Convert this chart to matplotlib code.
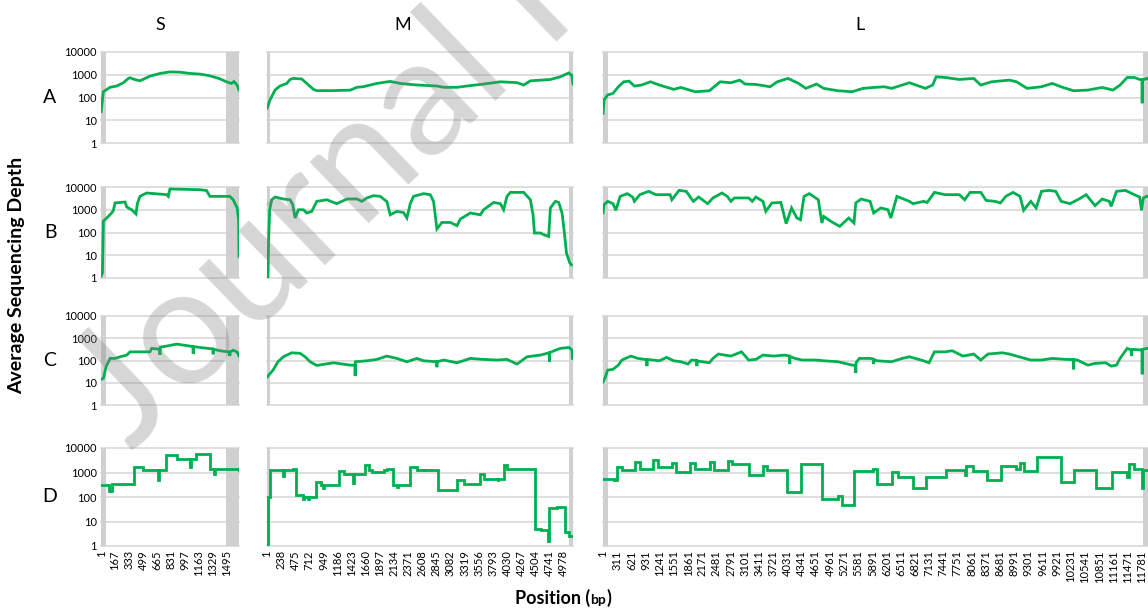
import matplotlib
matplotlib.use("Agg")
import matplotlib.pyplot as plt
from matplotlib.offsetbox import TextArea, HPacker, AnchoredOffsetbox

plt.rcParams['font.family'] = ['Lato', 'DejaVu Sans']

# --- segment lengths and tick labels (bp) ---
seg_names = ["S", "M", "L"]
seg_len = {"S": 1640, "M": 5140, "L": 11920}
seg_ticks = {
    "S": [1, 167, 333, 499, 665, 831, 997, 1163, 1329, 1495],
    "M": [1, 238, 475, 712, 949, 1186, 1423, 1660, 1897, 2134, 2371, 2608,
          2845, 3082, 3319, 3556, 3793, 4030, 4267, 4504, 4741, 4978],
    "L": [1, 311, 621, 931, 1241, 1551, 1861, 2171, 2481, 2791, 3101, 3411,
          3721, 4031, 4341, 4651, 4961, 5271, 5581, 5891, 6201, 6511, 6821,
          7131, 7441, 7751, 8061, 8371, 8681, 8991, 9301, 9611, 9921, 10231,
          10541, 10851, 11161, 11471, 11781],
}
# shaded (UTR / primer) regions at each end
seg_shade = {"S": [(0, 60), (1490, 1640)],
             "M": [(0, 50), (5070, 5140)],
             "L": [(0, 110), (11810, 11920)]}

# --- sample A ---
S_A_pos = [1, 28, 108, 187, 266, 325, 345, 400, 463, 582, 701, 820, 938, 1057, 1175, 1294, 1413, 1492, 1551, 1580, 1600, 1618, 1640]
S_A_dep = [24, 180, 280, 320, 445, 690, 735, 620, 540, 870, 1140, 1340, 1300, 1140, 1070, 900, 665, 490, 415, 500, 420, 350, 213]
M_A_pos = [1, 51, 135, 219, 331, 388, 443, 584, 668, 780, 836, 1061, 1397, 1509, 1621, 1845, 2069, 2238, 2518, 2854, 2967, 3191, 3359, 3639, 3919, 4200, 4312, 4424, 4760, 4928, 5068, 5124, 5140]
M_A_dep = [34, 78, 213, 320, 415, 620, 690, 650, 415, 228, 200, 200, 210, 280, 300, 415, 510, 415, 355, 320, 280, 280, 320, 390, 490, 450, 355, 540, 620, 810, 1200, 900, 390]
L_A_pos = [1, 23, 102, 219, 336, 453, 570, 687, 844, 1039, 1234, 1546, 1703, 2015, 2327, 2562, 2796, 2991, 3108, 3343, 3655, 3811, 4046, 4280, 4436, 4670, 4827, 5139, 5451, 5686, 5920, 6154, 6310, 6545, 6701, 7052, 7209, 7287, 7482, 7794, 8107, 8263, 8497, 8888, 9044, 9278, 9591, 9825, 10059, 10294, 10606, 10918, 11153, 11309, 11465, 11621, 11738, 11788, 11793, 11798, 11894, 11920]
L_A_dep = [20, 78, 129, 152, 297, 490, 525, 318, 353, 490, 353, 228, 277, 179, 198, 490, 445, 580, 390, 375, 297, 490, 690, 415, 252, 390, 252, 198, 179, 252, 277, 297, 252, 353, 445, 252, 353, 810, 760, 620, 690, 353, 490, 580, 490, 252, 297, 415, 277, 198, 212, 277, 212, 353, 760, 760, 620, 620, 56, 580, 690, 650]

# --- sample B ---
S_B_pos = [1, 17, 28, 68, 127, 147, 167, 286, 306, 365, 416, 432, 463, 542, 780, 799, 820, 1175, 1254, 1294, 1531, 1571, 1618, 1636, 1640]
S_B_dep = [1.2, 1.7, 310, 435, 720, 940, 1990, 2190, 1320, 1000, 650, 1850, 3880, 5450, 4600, 3880, 8200, 7600, 7000, 3880, 3880, 2750, 1200, 365, 9]
M_B_pos = [1, 12, 25, 45, 79, 135, 275, 388, 432, 472, 528, 612, 668, 752, 836, 1004, 1172, 1341, 1509, 1593, 1677, 1789, 1901, 2013, 2069, 2181, 2294, 2350, 2406, 2462, 2630, 2742, 2798, 2854, 2938, 3079, 3191, 3247, 3415, 3583, 3639, 3807, 3919, 3975, 4031, 4088, 4312, 4424, 4469, 4492, 4592, 4648, 4732, 4760, 4844, 4900, 4956, 4996, 5030, 5086, 5114]
M_B_dep = [1, 1, 30, 1000, 2750, 3630, 2960, 2750, 1660, 435, 1000, 1000, 720, 850, 2340, 2750, 1850, 2960, 3000, 2340, 3300, 4160, 3880, 2300, 600, 850, 750, 435, 1850, 3880, 5100, 4600, 2300, 142, 277, 277, 200, 390, 720, 600, 1000, 2100, 1850, 1000, 3880, 5800, 5800, 2750, 600, 95, 95, 80, 67, 1200, 2340, 2100, 720, 95, 12.6, 4.6, 3.8]
L_B_pos = [1, 23, 102, 219, 281, 375, 531, 648, 687, 804, 1000, 1156, 1468, 1507, 1663, 1820, 1976, 2093, 2288, 2405, 2601, 2718, 2796, 2874, 3186, 3265, 3343, 3499, 3561, 3694, 3889, 4007, 4124, 4241, 4319, 4397, 4514, 4709, 4787, 4827, 4983, 5178, 5373, 5490, 5529, 5647, 5842, 5920, 6076, 6232, 6295, 6428, 6701, 6779, 7013, 7091, 7248, 7482, 7794, 7911, 8029, 8263, 8380, 8575, 8693, 8810, 8966, 9122, 9200, 9356, 9474, 9591, 9747, 9903, 10020, 10215, 10411, 10567, 10762, 10918, 11075, 11114, 11231, 11426, 11621, 11738, 11778, 11817, 11894, 11920]
L_B_dep = [720, 1660, 2340, 1850, 940, 3880, 5100, 3630, 2340, 4600, 6450, 4600, 4600, 2750, 7100, 6450, 2340, 3630, 1850, 3300, 5450, 3880, 2340, 3300, 3300, 2340, 3630, 2340, 850, 1990, 2100, 245, 1200, 435, 365, 3880, 5100, 2750, 262, 510, 310, 186, 435, 262, 1990, 2960, 2340, 720, 1200, 1000, 435, 3880, 2340, 1850, 2340, 2100, 5800, 4600, 4600, 2750, 5800, 5800, 2570, 2340, 1990, 3880, 5800, 3880, 940, 2340, 1200, 6450, 7100, 6450, 2340, 1850, 2960, 4600, 1510, 2960, 2340, 1410, 6450, 7100, 4600, 3630, 940, 3300, 3880, 3880]

# --- sample C ---
S_C_pos = [1, 28, 60, 108, 167, 227, 306, 345, 582, 602, 661, 696, 701, 706, 780, 899, 1017, 1092, 1096, 1100, 1175, 1330, 1333, 1336, 1413, 1527, 1531, 1535, 1571, 1618, 1640]
S_C_dep = [14, 16, 52, 124, 124, 147, 175, 245, 245, 350, 330, 330, 180, 400, 445, 545, 470, 420, 200, 420, 385, 330, 190, 320, 275, 240, 160, 240, 290, 240, 158]
M_C_pos = [1, 17, 101, 185, 275, 415, 556, 640, 724, 836, 1116, 1397, 1478, 1481, 1484, 1677, 1845, 2013, 2181, 2350, 2518, 2630, 2851, 2854, 2857, 2967, 3191, 3415, 3639, 3863, 4031, 4200, 4368, 4592, 4740, 4743, 4746, 4816, 4928, 5068, 5124, 5130, 5135]
M_C_dep = [18, 20, 37, 88, 147, 222, 210, 147, 88, 60, 79, 62, 62, 20, 88, 97, 112, 158, 124, 88, 124, 97, 88, 50, 88, 105, 79, 124, 112, 105, 112, 69, 147, 175, 222, 90, 222, 270, 350, 385, 300, 124, 124]
L_C_pos = [1, 47, 102, 219, 336, 414, 609, 765, 922, 955, 961, 967, 1234, 1390, 1546, 1703, 1859, 1937, 2048, 2054, 2060, 2171, 2327, 2405, 2523, 2796, 3030, 3186, 3343, 3499, 3733, 3967, 4079, 4085, 4091, 4202, 4358, 4670, 4827, 5139, 5451, 5523, 5529, 5535, 5607, 5842, 5914, 5920, 5926, 5998, 6310, 6545, 6701, 7013, 7131, 7248, 7482, 7638, 7873, 8107, 8263, 8419, 8732, 8888, 9044, 9356, 9591, 9825, 10137, 10288, 10294, 10300, 10372, 10606, 10762, 10996, 11114, 11231, 11309, 11465, 11553, 11559, 11565, 11621, 11778, 11788, 11793, 11798, 11894, 11920]
L_C_dep = [11, 17, 37, 40, 62, 105, 158, 124, 112, 112, 56, 112, 97, 138, 97, 88, 69, 105, 100, 56, 95, 88, 79, 124, 195, 158, 245, 105, 112, 175, 158, 175, 160, 69, 150, 124, 105, 105, 97, 88, 62, 60, 28, 80, 124, 124, 115, 69, 110, 97, 88, 124, 147, 97, 79, 245, 245, 275, 158, 195, 105, 195, 222, 195, 158, 105, 105, 124, 112, 110, 40, 108, 105, 62, 74, 79, 56, 62, 124, 350, 300, 158, 300, 315, 295, 295, 24, 315, 350, 350]

# --- sample D (amplicon steps: depth holds from each position to the next) ---
S_D_pos = [1, 100, 125, 392, 500, 675, 690, 775, 900, 1055, 1070, 1130, 1300, 1340, 1360, 1640]
S_D_dep = [300, 175, 330, 1670, 1310, 480, 1310, 5000, 3700, 1700, 3700, 5900, 1440, 850, 1440, 1310]
M_D_pos = [1, 15, 45, 275, 290, 443, 490, 612, 625, 696, 710, 819, 910, 940, 955, 1210, 1285, 1440, 1455, 1649, 1705, 1761, 1957, 2013, 2110, 2181, 2195, 2400, 2518, 2630, 2645, 2880, 3191, 3303, 3580, 3639, 3874, 3885, 3975, 4031, 4508, 4600, 4721, 4735, 4872, 5012, 5068, 5140]
M_D_dep = [1.2, 100, 1230, 700, 1230, 1440, 117, 80, 100, 80, 100, 410, 300, 230, 300, 1150, 850, 380, 850, 1960, 1310, 1050, 1250, 1440, 300, 260, 300, 1670, 1310, 1100, 1310, 200, 480, 355, 910, 560, 450, 560, 1960, 1440, 5.1, 4.4, 1.6, 34, 39, 3.7, 2.5, 2.5]
L_D_pos = [1, 250, 300, 420, 710, 810, 1100, 1200, 1500, 1600, 1910, 2010, 2340, 2420, 2730, 2830, 3200, 3510, 3580, 4020, 4330, 4800, 5140, 5220, 5500, 5900, 6000, 6320, 6460, 6780, 7070, 7500, 7910, 7950, 8100, 8400, 8710, 9040, 9120, 9200, 9490, 10010, 10310, 10780, 11130, 11470, 11500, 11620, 11790, 11815, 11920]
L_D_dep = [560, 480, 1670, 1310, 2690, 1440, 3100, 1670, 2450, 1050, 2450, 1440, 2690, 1310, 2960, 2290, 770, 1900, 1310, 160, 2150, 86, 110, 46, 1150, 1440, 355, 1050, 660, 240, 660, 1310, 770, 1790, 1150, 480, 1790, 1440, 2450, 1150, 4300, 410, 1310, 240, 1050, 660, 2150, 1440, 240, 1310, 1310]

rows = ["A", "B", "C", "D"]
data = {
    ("A", "S"): (S_A_pos, S_A_dep), ("A", "M"): (M_A_pos, M_A_dep), ("A", "L"): (L_A_pos, L_A_dep),
    ("B", "S"): (S_B_pos, S_B_dep), ("B", "M"): (M_B_pos, M_B_dep), ("B", "L"): (L_B_pos, L_B_dep),
    ("C", "S"): (S_C_pos, S_C_dep), ("C", "M"): (M_C_pos, M_C_dep), ("C", "L"): (L_C_pos, L_C_dep),
    ("D", "S"): (S_D_pos, S_D_dep), ("D", "M"): (M_D_pos, M_D_dep), ("D", "L"): (L_D_pos, L_D_dep),
}

W, H = 1148, 610
fig = plt.figure(figsize=(W / 100, H / 100), dpi=100)

# panel boxes in pixels: columns (left, right), rows (top, bottom)
col_px = {"S": (101, 239), "M": (267, 573), "L": (603, 1148)}
row_px = {"A": (52, 143), "B": (187, 278), "C": (316, 405), "D": (448, 546)}

GREEN = "#00B050"
GRID = "#d9d9d9"
SHADE = "#d0d0d0"
levels = [1, 10, 100, 1000, 10000]

for r in rows:
    for c in seg_names:
        x0, x1 = col_px[c]
        y0, y1 = row_px[r]
        ax = fig.add_axes([x0 / W, 1 - y1 / H, (x1 - x0) / W, (y1 - y0) / H])
        ax.set_yscale("log")
        ax.set_ylim(1, 10000)
        ax.set_xlim(0, seg_len[c])
        for s in ax.spines.values():
            s.set_visible(False)
        for lv in levels:
            ax.axhline(lv, color=GRID, lw=1.2, zorder=0, clip_on=False)
        for a, b in seg_shade[c]:
            ax.axvspan(a, b, color=SHADE, lw=0, zorder=1)
        pos, dep = data[(r, c)]
        ds = "steps-post" if r == "D" else "default"
        ax.plot(pos, dep, color=GREEN, lw=2.0, drawstyle=ds, zorder=3,
                solid_joinstyle="miter")
        ax.set_yticks(levels)
        ax.yaxis.set_minor_locator(plt.NullLocator())
        if c == "S":
            ax.set_yticklabels([str(v) for v in levels], fontsize=8)
        else:
            ax.set_yticklabels([])
        ax.tick_params(axis="both", length=0, pad=3)
        ax.set_xticks(seg_ticks[c])
        if r == "D":
            ax.set_xticklabels([str(t) for t in seg_ticks[c]], rotation=90,
                               fontsize=8)
        else:
            ax.set_xticklabels([])
        ax.patch.set_alpha(0)

# row letters and column titles
for r in rows:
    y0, y1 = row_px[r]
    fig.text(50 / W, 1 - (y0 + y1) / 2 / H, r, fontsize=14, ha="center",
             va="center")
for c, xc in zip(seg_names, [160, 403, 860]):
    fig.text(xc / W, 1 - 25 / H, c, fontsize=13, ha="center", va="center")

fig.text(17 / W, 1 - 275 / H, "Average Sequencing Depth", rotation=90,
         fontsize=14, fontweight="bold", ha="center", va="center")

# x axis title with smaller "bp"
parts = [TextArea("Position (", textprops=dict(fontsize=13, fontweight="bold")),
         TextArea("bp", textprops=dict(fontsize=10, fontweight="bold")),
         TextArea(")", textprops=dict(fontsize=13, fontweight="bold"))]
box = HPacker(children=parts, align="baseline", pad=0, sep=0)
anch = AnchoredOffsetbox(loc="center", child=box, frameon=False,
                         bbox_to_anchor=(563 / W, 1 - 598 / H),
                         bbox_transform=fig.transFigure, borderpad=0)
fig.add_artist(anch)

# watermark
fig.text(132 / W, 1 - 452 / H, "Journal Pre-proof", fontsize=120,
         color="#808080", alpha=0.32, rotation=44, rotation_mode="anchor",
         ha="left", va="baseline", zorder=100)

fig.savefig("out.png", dpi=100)
